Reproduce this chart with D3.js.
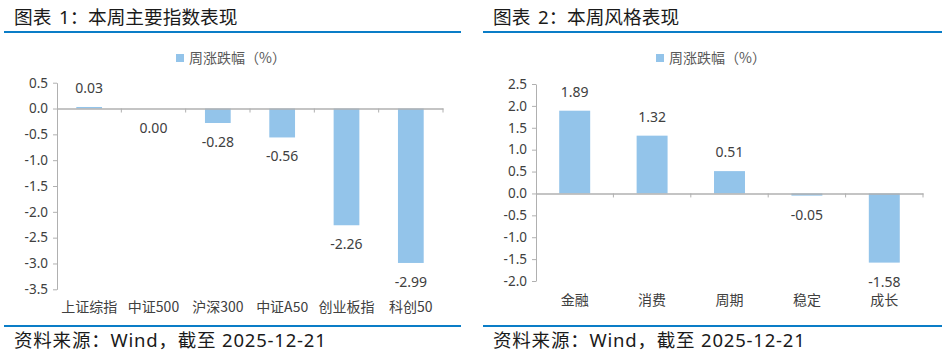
<!DOCTYPE html>
<html>
<head>
<meta charset="utf-8">
<script src="https://cdn.jsdelivr.net/npm/d3@7"></script>
<style>
  body { margin: 0; background: #fff; }
  text { font-family: "Noto Sans CJK SC", "Noto Sans", sans-serif; }
  .head { font-family: "Noto Sans", "Noto Sans CJK SC", sans-serif; }
</style>
</head>
<body>
<div id="chart"></div>
<script>
// Chart 1: major indices
const indexNames = ["上证综指", "中证500", "沪深300", "中证A50", "创业板指", "科创50"];
const indexValues = [0.03, 0.00, -0.28, -0.56, -2.26, -2.99];
const indexTicks = [0.5, 0.0, -0.5, -1.0, -1.5, -2.0, -2.5, -3.0, -3.5];

// Chart 2: style performance
const styleNames = ["金融", "消费", "周期", "稳定", "成长"];
const styleValues = [1.89, 1.32, 0.51, -0.05, -1.58];
const styleTicks = [2.5, 2.0, 1.5, 1.0, 0.5, 0.0, -0.5, -1.0, -1.5, -2.0];

const seriesName = "周涨跌幅（%）";
const sourceText = "资料来源：Wind，截至 2025-12-21";

const width = 950;
const height = 352;
const barColor = "#93c4ea";
const lineBlue = "#0a7dc7";
const axisGray = "#b0b0b0";
const textColor = "#404040";

const svg = d3.select("#chart")
  .append("svg")
  .attr("width", width)
  .attr("height", height);

/*
 * Draws one titled panel with a bar chart
 */
const drawPanel = (opt) => {
  const g = svg.append("g");

  // title and rules
  const title = g.append("text")
    .attr("class", "head")
    .attr("x", opt.titleX)
    .attr("y", 24)
    .attr("font-size", 18.7)
    .attr("fill", "#1a1a1a");
  title.append("tspan").text("图表");
  title.append("tspan")
    .attr("x", opt.titleX + 45)
    .text(opt.titleNo);
  title.append("tspan")
    .attr("x", opt.titleX + 74)
    .text(opt.title);

  g.append("line")
    .attr("x1", opt.left).attr("x2", opt.right)
    .attr("y1", 32).attr("y2", 32)
    .attr("stroke", lineBlue).attr("stroke-width", 2);
  g.append("line")
    .attr("x1", opt.left).attr("x2", opt.right)
    .attr("y1", 326).attr("y2", 326)
    .attr("stroke", lineBlue).attr("stroke-width", 2);
  g.append("text")
    .attr("class", "head")
    .attr("x", opt.titleX)
    .attr("y", 347)
    .attr("font-size", 18.5)
    .attr("letter-spacing", 0.8)
    .attr("fill", "#1a1a1a")
    .text(sourceText);

  // legend
  g.append("rect")
    .attr("x", opt.legendX).attr("y", 54)
    .attr("width", 8).attr("height", 8)
    .attr("fill", barColor);
  g.append("text")
    .attr("x", opt.legendX + 13)
    .attr("y", 63)
    .attr("font-size", 14)
    .attr("fill", "#595959")
    .text(seriesName);

  const x = d3.scaleBand()
    .domain(opt.names)
    .range([opt.x0, opt.x1])
    .paddingInner(0.6)
    .paddingOuter(0.3);
  const xb = d3.scaleBand().domain(opt.names).range([opt.x0, opt.x1]);

  const y = d3.scaleLinear()
    .domain([opt.ticks[opt.ticks.length - 1], opt.ticks[0]])
    .range([opt.yBottom, opt.yTop]);

  // y axis
  const yAxis = d3.axisLeft(y)
    .tickValues(opt.ticks)
    .tickFormat(d3.format(".1f"))
    .tickSize(4)
    .tickSizeOuter(0);
  const ya = g.append("g")
    .attr("transform", "translate(" + opt.x0 + ",0)")
    .call(yAxis);
  ya.select(".domain").attr("stroke", axisGray);
  ya.selectAll(".tick line").attr("stroke", axisGray);
  ya.selectAll(".tick text")
    .attr("font-size", 13.5)
    .attr("fill", textColor)
    .attr("x", -9)
    .text((d) => d3.format(".1f")(d).replace("\u2212", "-"))
    .style("font-family", "'Noto Sans', sans-serif");

  // bars
  g.selectAll(".bar")
    .data(opt.values)
    .enter()
    .append("rect")
    .attr("x", (d, i) => x(opt.names[i]))
    .attr("width", x.bandwidth())
    .attr("y", (d) => y(Math.max(0, d)))
    .attr("height", (d) => Math.abs(y(d) - y(0)))
    .attr("fill", barColor);

  // zero axis with category ticks
  const xAxis = d3.axisBottom(xb)
    .tickSize(0)
    .tickFormat("");
  const xa = g.append("g")
    .attr("transform", "translate(0," + y(0) + ")")
    .call(xAxis);
  xa.select(".domain").attr("stroke", axisGray).attr("stroke-width", 1.5);
  xa.selectAll(".sep")
    .data(d3.range(1, opt.names.length + 1))
    .enter()
    .append("line")
    .attr("x1", (i) => opt.x0 + i * xb.step())
    .attr("x2", (i) => opt.x0 + i * xb.step())
    .attr("y1", 0).attr("y2", 4)
    .attr("stroke", axisGray);

  // value labels
  g.selectAll(".val")
    .data(opt.values)
    .enter()
    .append("text")
    .attr("x", (d, i) => xb(opt.names[i]) + xb.bandwidth() / 2)
    .attr("y", (d) => d > 0 ? y(d) - 14 : y(d) + 24)
    .attr("text-anchor", "middle")
    .attr("font-size", 14)
    .attr("fill", textColor)
    .style("font-family", "'Noto Sans', sans-serif")
    .text((d) => d3.format(".2f")(d).replace("\u2212", "-"));

  // category labels
  g.selectAll(".cat")
    .data(opt.names)
    .enter()
    .append("text")
    .attr("x", (d) => xb(d) + xb.bandwidth() / 2)
    .attr("y", opt.catY)
    .attr("text-anchor", "middle")
    .attr("font-size", 14)
    .attr("fill", textColor)
    .text((d) => d);
};

drawPanel({
  titleNo: "1：", title: "本周主要指数表现",
  titleX: 14, left: 4, right: 461,
  legendX: 176,
  names: indexNames, values: indexValues, ticks: indexTicks,
  x0: 57, x1: 443, yTop: 82.7, yBottom: 289.3, catY: 312
});

drawPanel({
  titleNo: "2：", title: "本周风格表现",
  titleX: 493, left: 483, right: 942,
  legendX: 656,
  names: styleNames, values: styleValues, ticks: styleTicks,
  x0: 536, x1: 923, yTop: 84, yBottom: 281, catY: 305
});
</script>
</body>
</html>
